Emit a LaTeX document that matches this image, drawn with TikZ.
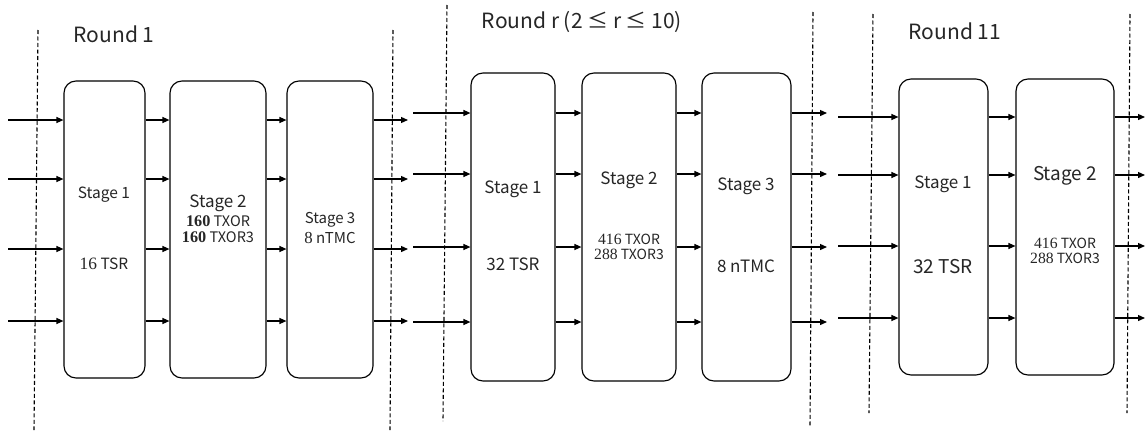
\documentclass[tikz,border=0pt]{standalone}
\usepackage{fontspec}
\setmainfont{Noto Sans CJK JP}
\newfontfamily\numf[Scale=1.12]{Liberation Serif}
\usetikzlibrary{arrows.meta}
\begin{document}
\begin{tikzpicture}[x=1pt,y=-1pt,
  stagebox/.style={draw, line width=1.15pt, rounded corners=12pt, inner sep=0pt},
  arr/.style={line width=1.25pt, -{Triangle[length=7pt,width=6pt]}},
  divider/.style={line width=1.1pt, dash pattern=on 4pt off 2.5pt},
  lbl/.style={inner sep=0pt, text=black!85},
  ttl/.style={inner sep=0pt, font=\fontsize{21}{23}\selectfont, text=black!85}]
\useasboundingbox (0,0) rectangle (1145,434);
\fill[white] (0,0) rectangle (1145,434);

% dividers
\draw[divider] (38,30) -- (34,430);
\draw[divider] (393,30) -- (390,430);
\draw[divider] (447,5) -- (443,421);
\draw[divider] (813,12) -- (810,427);
\draw[divider] (873,14) -- (869,413);
\draw[divider] (1130,14) -- (1127,413);

% titles
\node[ttl] (t1) at (114,34) {Round 1};
\node[ttl] (tr) at (582,22) {Round r (2 ≤ r ≤ 10)};
\node[ttl] (t11) at (955,31) {Round 11};

% Round 1 boxes
\node[stagebox, minimum width=81pt, minimum height=297pt] (a1) at (104.5,229.5) {};
\node[stagebox, minimum width=96pt, minimum height=297pt] (a2) at (218,229.5) {};
\node[stagebox, minimum width=86pt, minimum height=297pt] (a3) at (330,229.5) {};
% Round r boxes
\node[stagebox, minimum width=84pt, minimum height=308pt] (b1) at (513,227) {};
\node[stagebox, minimum width=94pt, minimum height=308pt] (b2) at (629,227) {};
\node[stagebox, minimum width=89pt, minimum height=308pt] (b3) at (746.5,227) {};
% Round 11 boxes
\node[stagebox, minimum width=89pt, minimum height=296pt] (c1) at (943.5,227) {};
\node[stagebox, minimum width=98pt, minimum height=296pt] (c2) at (1065,227) {};

% labels round 1
\node[lbl, font=\fontsize{15.5}{17}\selectfont] (a1l1) at (104,195) {Stage 1};
\node[lbl, font=\fontsize{15.5}{17}\selectfont] (a1l2) at (104,264) {{\numf 16} TSR};
\node[lbl, font=\fontsize{17}{18}\selectfont] (a2l1) at (218,203) {Stage 2};
\node[lbl, font=\fontsize{14.5}{16}\selectfont] (a2l2) at (218,221) {{\numf\bfseries 160} TXOR};
\node[lbl, font=\fontsize{14.5}{16}\selectfont] (a2l3) at (218,237) {{\numf\bfseries 160} TXOR3};
\node[lbl, font=\fontsize{15}{16}\selectfont] (a3l1) at (330,220) {Stage 3};
\node[lbl, font=\fontsize{15}{16}\selectfont] (a3l2) at (330,238) {{\numf 8} nTMC};
% labels round r
\node[lbl, font=\fontsize{17}{18}\selectfont] (b1l1) at (513,189) {Stage 1};
\node[lbl, font=\fontsize{17}{18}\selectfont] (b1l2) at (513,264) {32 TSR};
\node[lbl, font=\fontsize{17}{18}\selectfont] (b2l1) at (629,180) {Stage 2};
\node[lbl, font=\fontsize{14}{15}\selectfont] (b2l2) at (629,239) {{\numf 416} TXOR};
\node[lbl, font=\fontsize{14}{15}\selectfont] (b2l3) at (629,254) {{\numf 288} TXOR3};
\node[lbl, font=\fontsize{17}{18}\selectfont] (b3l1) at (746,186) {Stage 3};
\node[lbl, font=\fontsize{17}{18}\selectfont] (b3l2) at (746,266) {8 nTMC};
% labels round 11
\node[lbl, font=\fontsize{17}{18}\selectfont] (c1l1) at (943,184) {Stage 1};
\node[lbl, font=\fontsize{19}{20}\selectfont] (c1l2) at (943,267) {32 TSR};
\node[lbl, font=\fontsize{19}{20}\selectfont] (c2l1) at (1065,176) {Stage 2};
\node[lbl, font=\fontsize{14}{15}\selectfont] (c2l2) at (1065,243) {{\numf 416} TXOR};
\node[lbl, font=\fontsize{14}{15}\selectfont] (c2l3) at (1065,258) {{\numf 288} TXOR3};

% Round 1 arrows
\foreach \y [count=\i] in {120,179,249,321} {
  \coordinate (ai\i) at (8,\y);
  \coordinate (ao\i) at (408,\y);
  \draw[arr] (ai\i) -- (ai\i -| a1.west);
  \draw[arr] (ai\i -| a1.east) -- (ai\i -| a2.west);
  \draw[arr] (ai\i -| a2.east) -- (ai\i -| a3.west);
  \draw[arr] (ao\i -| a3.east) -- (ao\i);
}
% Round r arrows
\foreach \y [count=\i] in {113,174,247,322} {
  \coordinate (bi\i) at (413,\y);
  \coordinate (bo\i) at (827,\y);
  \draw[arr] (bi\i) -- (bi\i -| b1.west);
  \draw[arr] (bi\i -| b1.east) -- (bi\i -| b2.west);
  \draw[arr] (bi\i -| b2.east) -- (bi\i -| b3.west);
  \draw[arr] (bo\i -| b3.east) -- (bo\i);
}
% Round 11 arrows
\foreach \y [count=\i] in {117,175,246,318} {
  \coordinate (ci\i) at (838,\y);
  \coordinate (co\i) at (1145,\y);
  \draw[arr] (ci\i) -- (ci\i -| c1.west);
  \draw[arr] (ci\i -| c1.east) -- (ci\i -| c2.west);
  \draw[arr] (co\i -| c2.east) -- (co\i);
}
\end{tikzpicture}
\end{document}
